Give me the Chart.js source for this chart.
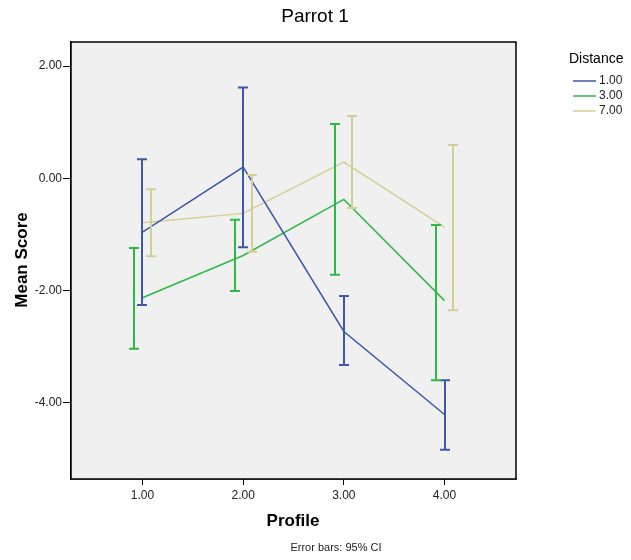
<!DOCTYPE html>
<html>
<head>
<meta charset="utf-8">
<script src="https://cdn.jsdelivr.net/npm/chart.js@4"></script>
<style>
  body { margin: 0; background: #fff; }
</style>
</head>
<body>
<canvas id="myChart" width="631" height="560"></canvas>
<script>
const profiles = [1, 2, 3, 4];
const distances = ['1.00', '3.00', '7.00'];

// means and 95% CI bounds per distance
const mean1 = [-0.96, 0.2, -2.73, -4.21];
const lower1 = [-2.26, -1.23, -3.33, -4.84];
const upper1 = [0.34, 1.62, -2.10, -3.60];

const mean3 = [-2.13, -1.375, -0.375, -2.18];
const lower3 = [-3.04, -2.01, -1.72, -3.60];
const upper3 = [-1.24, -0.74, 0.97, -0.83];

const mean7 = [-0.79, -0.625, 0.29, -0.87];
const lower7 = [-1.39, -1.31, -0.53, -2.35];
const upper7 = [-0.196, 0.06, 1.11, 0.595];

const xTicks = [1, 2, 3, 4];
const yTicks = [-4, -2, 0, 2];

const colors = ['#3e58ac', '#2eb848', '#d3ce97'];
const offsets = [0, -0.083, 0.083];
const means = [mean1, mean3, mean7];
const lowers = [lower1, lower3, lower7];
const uppers = [upper1, upper3, upper7];

const font = '"Liberation Sans", Arial, sans-serif';

const extras = {
    id: 'extras',
    beforeDatasetsDraw(chart) {
        const { ctx, chartArea: a } = chart;
        ctx.save();
        ctx.fillStyle = '#f0f0f0';
        ctx.fillRect(a.left, a.top, a.right - a.left, a.bottom - a.top);
        ctx.restore();
    },
    afterDatasetsDraw(chart) {
        const { ctx, chartArea: a, scales: { x, y } } = chart;
        ctx.save();
        // error bars
        means.forEach((m, i) => {
            ctx.strokeStyle = colors[i];
            ctx.lineWidth = 2;
            profiles.forEach((p, j) => {
                const px = Math.round(x.getPixelForValue(p + offsets[i])) + 0.0;
                const yt = y.getPixelForValue(uppers[i][j]);
                const yb = y.getPixelForValue(lowers[i][j]);
                ctx.beginPath();
                ctx.moveTo(px, yt);
                ctx.lineTo(px, yb);
                ctx.moveTo(px - 5, yt);
                ctx.lineTo(px + 5, yt);
                ctx.moveTo(px - 5, yb);
                ctx.lineTo(px + 5, yb);
                ctx.stroke();
            });
        });
        // frame
        ctx.strokeStyle = '#000';
        ctx.lineWidth = 1.5;
        ctx.strokeRect(a.left, a.top, a.right - a.left, a.bottom - a.top);

        // texts
        ctx.fillStyle = '#000';
        ctx.textAlign = 'center';
        ctx.textBaseline = 'middle';
        ctx.font = '19px ' + font;
        ctx.fillText('Parrot 1', 315, 17);

        ctx.font = 'bold 17px ' + font;
        ctx.fillText('Profile', 293, 521);
        ctx.save();
        ctx.translate(22, 260);
        ctx.rotate(-Math.PI / 2);
        ctx.fillText('Mean Score', 0, 0);
        ctx.restore();

        ctx.font = '11px ' + font;
        ctx.fillStyle = '#222';
        ctx.fillText('Error bars: 95% CI', 336, 548);

        // legend
        ctx.textAlign = 'left';
        ctx.fillStyle = '#000';
        ctx.font = '14px ' + font;
        ctx.fillText('Distance', 569, 59);
        ctx.font = '12px ' + font;
        distances.forEach((d, i) => {
            const ly = 81 + i * 15;
            ctx.strokeStyle = colors[i];
            ctx.lineWidth = 1.5;
            ctx.beginPath();
            ctx.moveTo(573, ly);
            ctx.lineTo(596, ly);
            ctx.stroke();
            ctx.fillStyle = '#222';
            ctx.fillText(d, 599, ly);
        });
        ctx.restore();
    }
};

new Chart(document.getElementById('myChart'), {
    type: 'line',
    data: {
        datasets: distances.map((d, i) => ({
            label: d,
            data: profiles.map((p, j) => ({ x: p, y: means[i][j] })),
            borderColor: colors[i],
            borderWidth: 1.5,
            pointRadius: 0,
            tension: 0,
            fill: false
        }))
    },
    options: {
        responsive: false,
        animation: false,
        layout: { padding: { top: 42, right: 115, left: 0, bottom: 0 } },
        plugins: {
            legend: { display: false },
            title: { display: false },
            tooltip: { enabled: false }
        },
        scales: {
            x: {
                type: 'linear',
                min: 0.29,
                max: 4.71,
                afterBuildTicks: s => { s.ticks = xTicks.map(v => ({ value: v })); },
                afterFit: s => { s.height = 81; },
                ticks: {
                    autoSkip: false,
                    maxRotation: 0,
                    padding: 3,
                    color: '#222',
                    font: { family: font, size: 12 },
                    callback: v => v.toFixed(2)
                },
                grid: { drawOnChartArea: false, tickLength: 6, color: '#000' },
                border: { display: true, color: '#000', width: 1.5 }
            },
            y: {
                type: 'linear',
                min: -5.36,
                max: 2.43,
                afterBuildTicks: s => { s.ticks = yTicks.map(v => ({ value: v })); },
                afterFit: s => { s.width = 71; },
                ticks: {
                    autoSkip: false,
                    padding: 1,
                    color: '#222',
                    font: { family: font, size: 12 },
                    callback: v => v.toFixed(2)
                },
                grid: { drawOnChartArea: false, tickLength: 8, color: '#000' },
                border: { display: true, color: '#000', width: 1.5 }
            }
        }
    },
    plugins: [extras]
});
</script>
</body>
</html>
